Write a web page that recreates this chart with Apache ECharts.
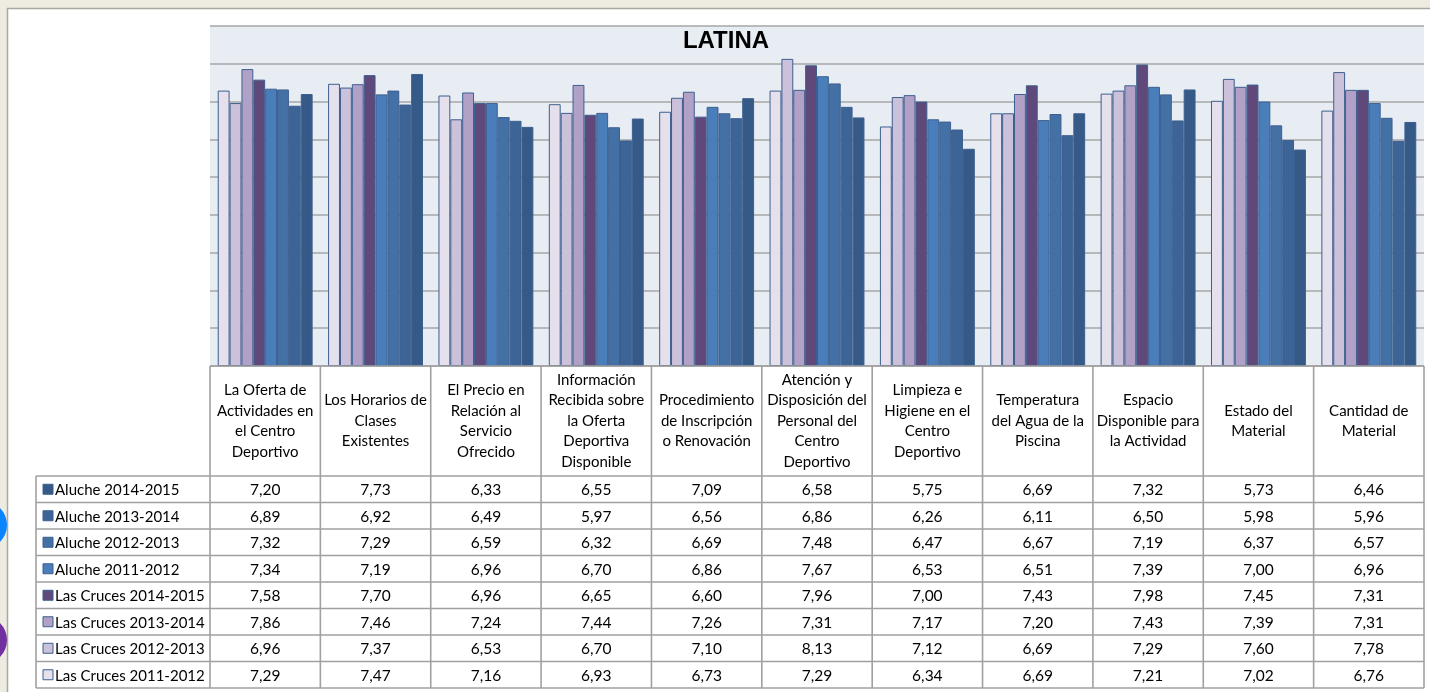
<!DOCTYPE html>
<html>
<head>
<meta charset="utf-8">
<script src="https://cdn.jsdelivr.net/npm/echarts@6/dist/echarts.min.js"></script>
<style>
html,body{margin:0;padding:0;background:#eeece1;}
#c{width:1430px;height:692px;}
</style>
</head>
<body>
<div id="c"></div>
<script>
// ---- data ----
var categories = [
  'La Oferta de\nActividades en\nel Centro\nDeportivo',
  'Los Horarios de\nClases\nExistentes',
  'El Precio en\nRelación al\nServicio\nOfrecido',
  'Información\nRecibida sobre\nla Oferta\nDeportiva\nDisponible',
  'Procedimiento\nde Inscripción\no Renovación',
  'Atención y\nDisposición del\nPersonal del\nCentro\nDeportivo',
  'Limpieza e\nHigiene en el\nCentro\nDeportivo',
  'Temperatura\ndel Agua de la\nPiscina',
  'Espacio\nDisponible para\nla Actividad',
  'Estado del\nMaterial',
  'Cantidad de\nMaterial'
];
var seriesNames = [
  'Las Cruces 2011-2012', 'Las Cruces 2012-2013', 'Las Cruces 2013-2014', 'Las Cruces 2014-2015',
  'Aluche 2011-2012', 'Aluche 2012-2013', 'Aluche 2013-2014', 'Aluche 2014-2015'
];
var lasCruces2011 = [7.29, 7.47, 7.16, 6.93, 6.73, 7.29, 6.34, 6.69, 7.21, 7.02, 6.76];
var lasCruces2012 = [6.96, 7.37, 6.53, 6.70, 7.10, 8.13, 7.12, 6.69, 7.29, 7.60, 7.78];
var lasCruces2013 = [7.86, 7.46, 7.24, 7.44, 7.26, 7.31, 7.17, 7.20, 7.43, 7.39, 7.31];
var lasCruces2014 = [7.58, 7.70, 6.96, 6.65, 6.60, 7.96, 7.00, 7.43, 7.98, 7.45, 7.31];
var aluche2011 = [7.34, 7.19, 6.96, 6.70, 6.86, 7.67, 6.53, 6.51, 7.39, 7.00, 6.96];
var aluche2012 = [7.32, 7.29, 6.59, 6.32, 6.69, 7.48, 6.47, 6.67, 7.19, 6.37, 6.57];
var aluche2013 = [6.89, 6.92, 6.49, 5.97, 6.56, 6.86, 6.26, 6.11, 6.50, 5.98, 5.96];
var aluche2014 = [7.20, 7.73, 6.33, 6.55, 7.09, 6.58, 5.75, 6.69, 7.32, 5.73, 6.46];
var seriesValues = [lasCruces2011, lasCruces2012, lasCruces2013, lasCruces2014,
                    aluche2011, aluche2012, aluche2013, aluche2014];

// ---- styles ----
var colors = ['#e5e0ec', '#ccc1da', '#b2a1c7', '#5f497a', '#4a7ebb', '#4371a6', '#3c6496', '#365a88'];
var FONT = 'Lato, "Liberation Sans", sans-serif';
var gridL = 210, gridT = 26, gridW = 1214, gridH = 340;
var colW = gridW / categories.length;
var headerBottom = 476, rowH = 26.5, tableLeft = 36;
var lineColor = '#a0a0a0';

var chart = echarts.init(document.getElementById('c'));

var graphics = [];
// panel
graphics.push({type:'rect', shape:{x:7.5, y:8.5, width:1440, height:700},
  style:{fill:'#ffffff', stroke:'#a8a8a0', lineWidth:1.5}, z:-10, silent:true});
// decorations on left edge
graphics.push({type:'circle', shape:{cx:-17, cy:525, r:24}, style:{fill:'#0a84ff'}, z:-5});
graphics.push({type:'circle', shape:{cx:-17, cy:640, r:24}, style:{fill:'#7030a0'}, z:-5});

function hline(x1, x2, y){
  graphics.push({type:'line', shape:{x1:x1, y1:y, x2:x2, y2:y}, style:{stroke:lineColor, lineWidth:1.6}, z:10});
}
function vline(x, y1, y2){
  graphics.push({type:'line', shape:{x1:x, y1:y1, x2:x, y2:y2}, style:{stroke:lineColor, lineWidth:1.6}, z:10});
}
var nRows = seriesNames.length;
var tableBottom = headerBottom + nRows * rowH;
hline(gridL, gridL + gridW, gridT + gridH);
for (var r = 0; r <= nRows; r++) hline(tableLeft, gridL + gridW, headerBottom + r * rowH);
for (var k = 0; k <= categories.length; k++) vline(gridL + k * colW, gridT + gridH, tableBottom);
vline(tableLeft, headerBottom, tableBottom);

// table rows (reverse series order)
for (var r = 0; r < nRows; r++) {
  var si = nRows - 1 - r;
  var cy = headerBottom + r * rowH + rowH / 2;
  graphics.push({type:'rect', shape:{x:43, y:cy - 5, width:10, height:10},
    style:{fill:colors[si], stroke:'#3d5f8f', lineWidth:1}, z:11});
  graphics.push({type:'text', x:55, y:cy + 1, style:{text:seriesNames[si], font:'15px ' + FONT,
    fill:'#000', textAlign:'left', textVerticalAlign:'middle'}, z:11});
  for (var c = 0; c < categories.length; c++) {
    graphics.push({type:'text', x:gridL + (c + 0.5) * colW, y:cy + 1,
      style:{text:seriesValues[si][c].toFixed(2).replace('.', ','), font:'15.5px ' + FONT,
      fill:'#000', textAlign:'center', textVerticalAlign:'middle'}, z:11});
  }
}
// title
graphics.push({type:'text', x:726, y:41, style:{text:'LATINA', font:'bold 24px "Liberation Sans", Arial, sans-serif',
  fill:'#000', textAlign:'center', textVerticalAlign:'middle'}, z:12});

var series = seriesNames.map(function(name, i){
  return {
    name: name, type: 'bar', data: seriesValues[i],
    barGap: '0%', barCategoryGap: '14%',
    itemStyle: {color: colors[i], borderColor: '#3d5f8f', borderWidth: 1},
    emphasis: {disabled: true}, animation: false
  };
});

chart.setOption({
  animation: false,
  grid: {left: gridL, top: gridT, width: gridW, height: gridH, show: true,
    backgroundColor: '#e8edf4', borderWidth: 0, containLabel: false},
  xAxis: {
    type: 'category', data: categories,
    axisLine: {show: false}, axisTick: {show: false},
    axisLabel: {interval: 0, margin: 55, verticalAlign: 'middle', lineHeight: 20.5,
      fontFamily: FONT, fontSize: 15, color: '#000', hideOverlap: false}
  },
  yAxis: {
    type: 'value', min: 0, max: 9, interval: 1,
    axisLabel: {show: false}, axisLine: {show: false}, axisTick: {show: false},
    splitLine: {lineStyle: {color: '#a6a6a6', width: 1.5}}
  },
  series: series,
  graphic: graphics
});
</script>
</body>
</html>
